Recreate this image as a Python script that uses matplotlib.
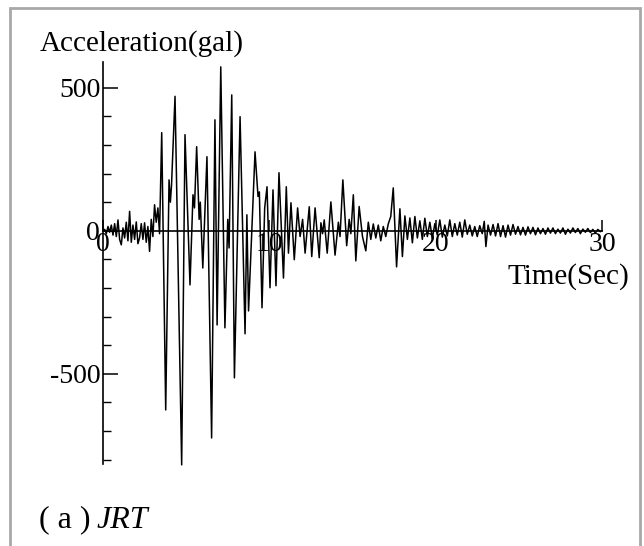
import matplotlib
matplotlib.use("Agg")
import matplotlib.pyplot as plt
from matplotlib.patches import Rectangle
from matplotlib.ticker import MultipleLocator

# time (sec) and acceleration (gal)
time = [0.0, 0.1, 0.2, 0.3, 0.4, 0.5, 0.6, 0.7, 0.8, 0.9,
        1.0, 1.1, 1.2, 1.3, 1.4, 1.5, 1.6, 1.7, 1.8, 1.9,
        2.0, 2.1, 2.2, 2.3, 2.4, 2.5, 2.6, 2.7, 2.8, 2.9,
        3.0, 3.1, 3.2, 3.3, 3.4, 3.53, 3.77, 3.97, 4.05, 4.12,
        4.33, 4.73, 4.93, 5.23, 5.41, 5.5, 5.63, 5.78, 5.85, 6.0,
        6.25, 6.53, 6.73, 6.86, 7.08, 7.33, 7.5, 7.58, 7.74, 7.9,
        8.24, 8.54, 8.65, 8.75, 9.14, 9.25, 9.32, 9.4, 9.56, 9.72,
        9.86, 10.04, 10.22, 10.4, 10.58, 10.85, 11.02, 11.15, 11.3, 11.5,
        11.7, 11.85, 12.0, 12.15, 12.4, 12.55, 12.75, 13.0, 13.1, 13.2,
        13.3, 13.48, 13.7, 13.95, 14.15, 14.25, 14.42, 14.65, 14.8, 14.9,
        15.05, 15.2, 15.4, 15.6, 15.8, 15.95, 16.1, 16.25, 16.4, 16.55,
        16.7, 16.85, 17.0, 17.15, 17.3, 17.45, 17.65, 17.85, 18.0, 18.15,
        18.3, 18.45, 18.6, 18.75, 18.9, 19.05, 19.2, 19.35, 19.5, 19.65,
        19.8, 19.95, 20.1, 20.25, 20.4, 20.55, 20.7, 20.85, 21.0, 21.15,
        21.3, 21.45, 21.6, 21.75, 21.9, 22.05, 22.2, 22.35, 22.5, 22.65,
        22.8, 22.92, 23.02, 23.15, 23.3, 23.45, 23.6, 23.75, 23.9, 24.05,
        24.2, 24.35, 24.5, 24.65, 24.8, 24.95, 25.1, 25.25, 25.4, 25.55,
        25.7, 25.85, 26.0, 26.15, 26.3, 26.45, 26.6, 26.75, 26.9, 27.05,
        27.2, 27.35, 27.5, 27.65, 27.8, 27.95, 28.1, 28.25, 28.4, 28.55,
        28.7, 28.85, 29.0, 29.15, 29.3, 29.45, 29.6, 29.75, 29.9, 30.0]

accel = [0, 5, -10, 15, -5, 20, -15, 25, -20, 38,
         -30, -49, 10, -25, 30, -35, 68, -40, 20, -30,
         31, -45, -24, 25, -30, 28, -40, 15, -72, 40,
         -20, 91, 30, 80, -10, 343, -626, 178, 100, 160,
         470, -818, 336, -189, 126, 80, 294, 40, 100, -130,
         259, -724, 388, -329, 573, -339, 40, -60, 475, -514,
         399, -360, 56, -280, 276, 180, 120, 136, -269, 80,
         154, -199, 143, -192, 203, -165, 154, -78, 98, -101,
         80, -20, 40, -78, 84, -90, 80, -94, 28, -10,
         38, -78, 101, -85, 30, -20, 178, -52, 40, -10,
         126, -105, 85, -20, -70, 30, -30, 24, -25, 20,
         -35, 15, -20, 24, 50, 150, -126, 77, -90, 52,
         -30, 45, -42, 50, -25, 35, -30, 44, -20, 30,
         -26, 25, -15, 38, -22, 20, -18, 38, -20, 25,
         -15, 30, -22, 38, -12, 20, -18, 15, -20, 18,
         -10, 33, -55, 20, -15, 22, -18, 25, -20, 18,
         -22, 20, -15, 22, -12, 15, -14, 12, -15, 14,
         -10, 12, -14, 10, -10, 8, -12, 10, -8, 10,
         -10, 6, -8, 10, -12, 6, -8, 10, -6, 8,
         -10, 6, -5, 8, -6, 5, -8, 5, -3, 0]

xticks = [0, 10, 20, 30]
yticks = [-500, 0, 500]

plt.rcParams['font.family'] = ['Liberation Serif', 'DejaVu Serif']

fig = plt.figure(figsize=(6.44, 5.46), dpi=100)
ax = fig.add_axes([103/644, 82/546, 499/644, 402/546])

ax.plot(time, accel, color='black', lw=1.1, clip_on=False)

ax.set_xlim(0, 30)
ax.set_ylim(-815, 590)

ax.spines['left'].set_position(('data', 0))
ax.spines['bottom'].set_position(('data', 0))
ax.spines['top'].set_visible(False)
ax.spines['right'].set_visible(False)
ax.spines['left'].set_linewidth(1.2)
ax.spines['bottom'].set_linewidth(1.2)

ax.set_xticks(xticks)
ax.set_xticklabels([str(v) for v in xticks])
ax.set_yticks(yticks)
ax.set_yticklabels([str(v) for v in yticks])
ax.yaxis.set_minor_locator(MultipleLocator(100))
ax.tick_params(axis='y', which='major', direction='in', length=11, width=1.1, labelsize=20, pad=2)
ax.tick_params(axis='y', which='minor', direction='in', length=6, width=1.0)
ax.tick_params(axis='x', which='major', direction='in', length=8, width=1.1, labelsize=20, pad=1)

fig.text(40/644, 1 - 44/546, 'Acceleration(gal)', fontsize=21, ha='left', va='center')
fig.text(507/644, 1 - 277/546, 'Time(Sec)', fontsize=21, ha='left', va='center')
fig.text(39/644, 1 - 520/546, '( a )', fontsize=23, ha='left', va='center')
fig.text(97/644, 1 - 520/546, 'JRT', fontsize=23, style='italic', ha='left', va='center')

# grey frame round the panel, bottom edge runs off the picture
fig.add_artist(Rectangle((10/644, -0.05), 630/644, (546 - 8)/546 + 0.05, fill=False,
                         ec='#a8a8a8', lw=2, transform=fig.transFigure))

fig.savefig('out.png', dpi=100)
